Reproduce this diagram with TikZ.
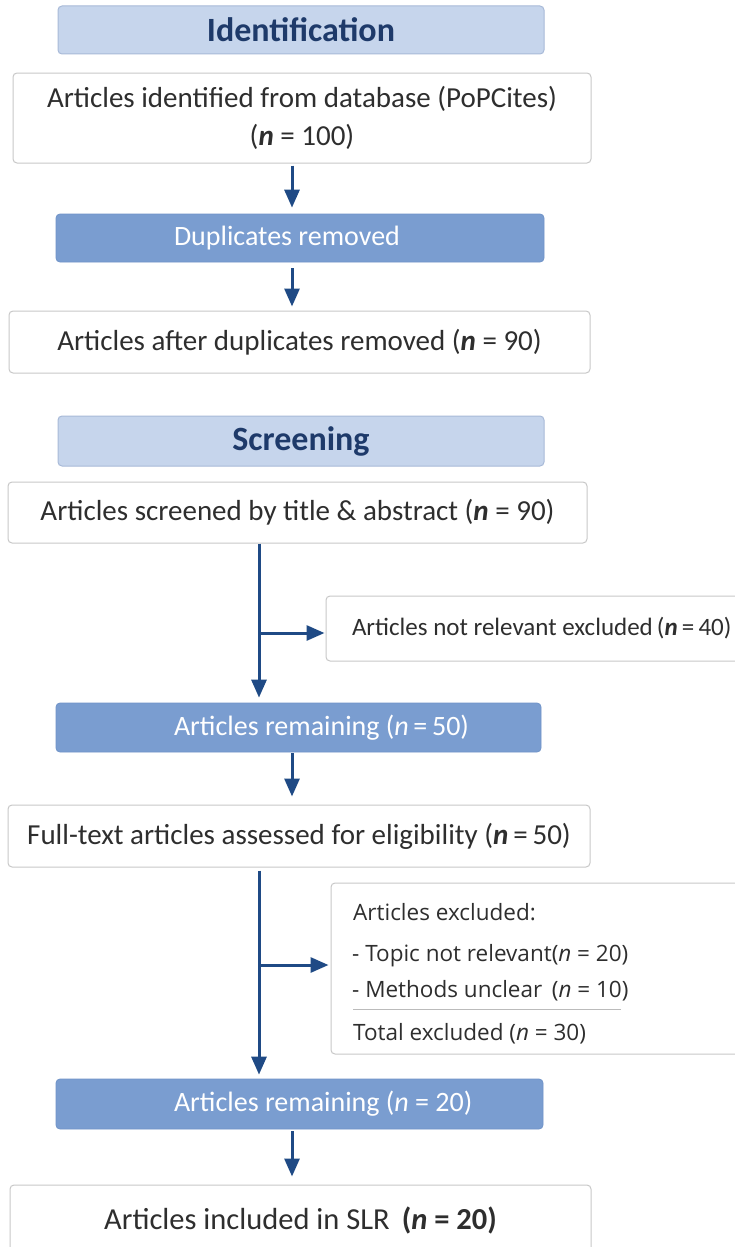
\documentclass[tikz,border=0pt]{standalone}
\usepackage{fontspec}
\setmainfont{Carlito}
\newfontfamily\osans{Open Sans}
\usetikzlibrary{arrows.meta}
\definecolor{hdrfill}{HTML}{C6D5EC}
\definecolor{hdrdraw}{HTML}{A8BAD8}
\definecolor{hdrtext}{HTML}{1E3A6A}
\definecolor{blufill}{HTML}{7A9DD0}
\definecolor{bludraw}{HTML}{7093C8}
\definecolor{wdraw}{HTML}{C8C8C8}
\definecolor{txt}{HTML}{2E2E2E}
\definecolor{arrc}{HTML}{1F4A85}
\definecolor{sepc}{HTML}{BBBBBB}
\newcommand{\nn}{\textbf{\textit{n}}}
\begin{document}
\begin{tikzpicture}[x=1pt,y=-1pt,
  hdr/.style={draw=hdrdraw, fill=hdrfill, rounded corners=4pt, line width=1pt, text=hdrtext,
    font=\fontsize{34}{40}\selectfont\bfseries, inner sep=0pt, minimum width=486pt, minimum height=48pt},
  blu/.style={draw=bludraw, fill=blufill, rounded corners=4pt, line width=0.8pt, text=white,
    font=\fontsize{28}{34}\selectfont, inner sep=0pt, minimum height=49pt},
  wbox/.style={draw=wdraw, fill=white, rounded corners=4pt, line width=1pt, text=txt,
    font=\fontsize{29}{37}\selectfont, inner sep=0pt, align=center},
  etxt/.style={anchor=base west, inner sep=0pt, text=txt, font=\osans\fontsize{22.5}{26}\selectfont},
  arr/.style={draw=arrc, line width=3pt, -{Triangle[width=15pt,length=18pt]}}
]
\useasboundingbox (0,0) rectangle (734,1247);
\fill[white] (0,0) rectangle (734,1247);

\coordinate (ax) at (292,0);
\coordinate (bx) at (259,0);

\node[hdr] (ident) at (301,30) {Identification};
\node[wbox, minimum width=578pt, minimum height=90pt, font=\fontsize{29}{38}\selectfont] (artid) at (302,118)
  {Articles identified from database (PoPCites)\\(\nn{} = 100)};
\node[blu, minimum height=48pt] (dup) at (300,238)
  {\makebox[488pt][l]{\hspace*{118pt}Duplicates removed}};
\node[wbox, minimum width=581pt, minimum height=62pt] (after) at (299.5,342)
  {Articles after duplicates removed (\nn{} = 90)};

\node[hdr, minimum height=50pt] (screen) at (301,441) {Screening};
\node[wbox, minimum width=579pt, minimum height=61pt] (scr) at (297.5,512.5)
  {Articles screened by title \& abstract (\nn{} = 90)};
\node[wbox, minimum height=65pt, font=\fontsize{25}{30}\selectfont] (excl1) at (533,628.5)
  {\makebox[414pt][l]{\hspace*{26pt}Articles not relevant excluded\,(\nn{}\,=\,40)}};
\node[blu] (rem50) at (298.5,727.5)
  {\makebox[485pt][l]{\hspace*{118pt}Articles remaining (\textit{n}\,=\,50)}};
\node[wbox, minimum width=582pt, minimum height=62pt] (full) at (299,836)
  {Full-text articles assessed for eligibility (\nn{}\,=\,50)};

\node[wbox, minimum width=409pt, minimum height=171pt] (excl2) at (535.5,968.5) {};
\node[etxt] (e2a) at (353,920) {Articles excluded:};
\node[etxt] (e2b) at (352,961) {- Topic not relevant(\textit{n} = 20)};
\node[etxt] (e2c) at (352,997) {- Methods unclear \,(\textit{n} = 10)};
\node[etxt] (e2d) at (353,1040) {Total excluded (\textit{n} = 30)};
\draw[sepc, line width=1pt] (353,1009) -- (621,1009);

\node[blu, minimum height=50pt] (rem20) at (299.5,1104)
  {\makebox[487pt][l]{\hspace*{118pt}Articles remaining (\textit{n} = 20)}};
\node[wbox, minimum width=581pt, minimum height=70pt, font=\fontsize{30.5}{37}\selectfont] (incl) at (300.5,1220)
  {Articles included in SLR \,\textbf{(\textit{n} = 20)}};

% connectors
\draw[arr, shorten <=2pt, shorten >=6pt] (artid.south -| ax) -- (dup.north -| ax);
\draw[arr, shorten <=6pt, shorten >=4pt] (dup.south -| ax) -- (after.north -| ax);
\draw[arr, shorten >=5pt] (scr.south -| bx) -- (rem50.north -| bx);
\coordinate (e1in) at ([yshift=-4.5pt]excl1.west);
\draw[arr, shorten >=1pt] (bx |- e1in) -- (e1in);
\draw[arr, shorten <=1pt, shorten >=8pt] (rem50.south -| ax) -- (full.north -| ax);
\draw[arr, shorten <=3pt, shorten >=4pt] (full.south -| bx) -- (rem20.north -| bx);
\coordinate (e2in) at ([yshift=3.5pt]excl2.west);
\draw[arr, shorten >=2pt] (bx |- e2in) -- (e2in);
\draw[arr, shorten <=2pt, shorten >=8pt] (rem20.south -| ax) -- (incl.north -| ax);
\end{tikzpicture}
\end{document}
